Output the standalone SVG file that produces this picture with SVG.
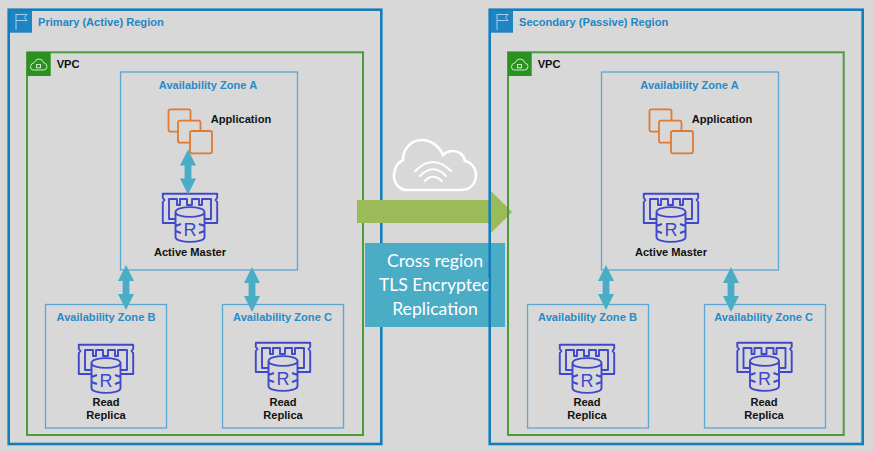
<svg xmlns="http://www.w3.org/2000/svg" width="873" height="451" viewBox="0 0 873 451">
<style>
text{font-family:"Liberation Sans",Arial,sans-serif;font-weight:700;font-size:11.1px}
.reg{fill:none;stroke:#147ebb;stroke-width:2.6}
.vpc{fill:none;stroke:#4a9d3a;stroke-width:2}
.az{fill:none;stroke:#5ba6d3;stroke-width:1.3}
.rt{fill:#1f86c4}
.azt{fill:#2a8ac6;text-anchor:middle}
.lbl{fill:#111;text-anchor:middle}
.dbl{fill:none;stroke:#3f48cc;stroke-width:1.9;stroke-linejoin:round}
.app{fill:none;stroke:#e07a30;stroke-width:1.8}
.con{fill:#4bacc6}
.ico{fill:none;stroke:#9fd0ee;stroke-width:1}
.ico2{fill:none;stroke:#cfe8cb;stroke-width:1}
.rep{font-family:Lato,Carlito,"Open Sans",sans-serif;font-weight:400;font-size:17.6px;fill:#fff;text-anchor:middle}
</style>
<defs>
<g id="db">
<path class="dbl" d="M13 26H7V6H15V12H18V6H25V12H30V6H37V12H40V6H49V26H43"/>
<path class="dbl" d="M13 30H0.800V9L2.500 7L0.800 5V0.800H55.200V5L53.500 7L55.200 9V30H43"/>
<path class="dbl" d="M13.500 19C13.500 12.500 42.500 12.500 42.500 19V44C42.500 50.500 13.500 50.500 13.500 44ZM13.500 19C13.500 25.500 42.500 25.500 42.500 19M13.500 33L19 31M42.500 33L37 31M13.500 38L19 40M42.500 38L37 40"/>
<text x="28" y="43" text-anchor="middle" style="font-size:18px;font-weight:400;fill:#3f48cc">R</text>
</g>
<g id="apps" class="app">
<path d="M10.500 22.700H3Q1 22.700 1 20.700V2.300Q1 .3 3 .3H21Q23 .3 23 2.300V11.700"/>
<path d="M22.500 33.700H12.500Q10.500 33.700 10.500 31.700V13.700Q10.500 11.700 12.500 11.700H31Q33 11.700 33 13.700V22"/>
<rect x="22.500" y="22" width="22" height="22.300" rx="2"/>
</g>
<path id="biarrow" d="M0 -22.500L8 -6.500H3.400V6.500H8L0 22.500L-8 6.500H-3.400V-6.500H-8Z"/>
</defs>
<rect width="873" height="451" fill="#d8d8d8"/>

<g id="primary-region">
<rect class="reg" x="8.700" y="9.700" width="372.600" height="434.300"/>
<rect x="10" y="11" width="22" height="21.700" fill="#1e84c4"/>
<path class="ico" d="M16 30V14M16 14.500H27L24.500 17.500L27 20.500H16"/>
<text class="rt" x="38" y="26">Primary (Active) Region</text>
</g>
<g id="primary-vpc">
<rect class="vpc" x="27" y="52.300" width="336" height="382.700"/>
<rect x="27" y="52" width="23.700" height="24" fill="#2b911f"/>
<path class="ico2" d="M33 70H43.500Q47 70 47 66.500Q47 63.500 44 63Q43 59 39 59Q35.500 59 34.500 62.500Q30.500 63.500 30.500 66.500Q30.500 70 33 70Z"/>
<rect class="ico2" x="36.500" y="64.500" width="4" height="3.300" stroke-width=".8"/>
<text x="56.700" y="68.300" style="fill:#111">VPC</text>
</g>
<g id="primary-az-a">
<rect class="az" x="120.500" y="72" width="177" height="198"/>
<text class="azt" x="208" y="88.500">Availability Zone A</text>
</g>
<g id="primary-application">
<use href="#apps" x="167.500" y="109"/>
<text class="lbl" x="241" y="122.500">Application</text>
</g>
<g id="primary-master">
<use href="#db" x="162" y="193"/>
<text class="lbl" x="190" y="255.500">Active Master</text>
</g>
<g id="primary-az-b">
<rect class="az" x="45.500" y="304.500" width="121" height="123.500"/>
<text class="azt" x="106" y="321">Availability Zone B</text>
<use href="#db" x="78" y="344"/>
<text class="lbl" x="106" y="405.700">Read</text>
<text class="lbl" x="106" y="418.700">Replica</text>
</g>
<g id="primary-az-c">
<rect class="az" x="222.500" y="304.500" width="121" height="123.500"/>
<text class="azt" x="282.500" y="321">Availability Zone C</text>
<use href="#db" x="255" y="342"/>
<text class="lbl" x="283" y="405.700">Read</text>
<text class="lbl" x="283" y="418.700">Replica</text>
</g>

<g id="cloud-link">
<path d="M407 190H461C471 190 476 183 476 175C476 168 471 162 465 161C464 154 458 151 453 151C449 151 446 152 443 155C439 146 431 140 422 140C411 140 403 149 403 160C397 163 394 169 394 176C394 184 400 190 407 190Z" fill="none" stroke="#fff" stroke-width="2.600"/>
<path d="M414.500 171.700Q433 152.300 451.700 171.700M419.500 176.700Q433 162 446.700 176.700M424 181.700Q433 171.700 442.500 181.700" fill="none" stroke="#fff" stroke-width="2"/>
</g>
<g id="replication-arrow">
<path d="M357 200H491V191L512 212L491 233V223H357Z" fill="#9bbb59"/>
</g>
<g id="replication-label">
<rect x="365" y="243" width="140" height="84" fill="#4bacc6"/>
<text class="rep" x="435" y="267">Cross region</text>
<text class="rep" x="435" y="291">TLS Encrypted</text>
<text class="rep" x="435" y="315">Replication</text>
</g>

<g id="secondary-region">
<rect class="reg" x="489.700" y="9.700" width="373" height="434.300"/>
<rect x="491" y="11" width="22" height="21.700" fill="#1e84c4"/>
<path class="ico" d="M497 30V14M497 14.500H508L505.500 17.500L508 20.500H497"/>
<text class="rt" x="519" y="26">Secondary (Passive) Region</text>
</g>
<g id="secondary-vpc">
<rect class="vpc" x="508" y="52.300" width="335.700" height="382.700"/>
<rect x="508" y="52" width="23.700" height="24" fill="#2b911f"/>
<path class="ico2" d="M514 70H524.500Q528 70 528 66.500Q528 63.500 525 63Q524 59 520 59Q516.500 59 515.500 62.500Q511.500 63.500 511.500 66.500Q511.500 70 514 70Z"/>
<rect class="ico2" x="517.500" y="64.500" width="4" height="3.300" stroke-width=".8"/>
<text x="537.700" y="68.300" style="fill:#111">VPC</text>
</g>
<g id="secondary-az-a">
<rect class="az" x="601.500" y="72" width="177" height="198"/>
<text class="azt" x="689.500" y="88.500">Availability Zone A</text>
</g>
<g id="secondary-application">
<use href="#apps" x="648.500" y="109"/>
<text class="lbl" x="722" y="122.500">Application</text>
</g>
<g id="secondary-master">
<use href="#db" x="643" y="193"/>
<text class="lbl" x="671" y="255.500">Active Master</text>
</g>
<g id="secondary-az-b">
<rect class="az" x="527.500" y="304.500" width="121" height="123.500"/>
<text class="azt" x="587.500" y="321">Availability Zone B</text>
<use href="#db" x="559" y="344"/>
<text class="lbl" x="587" y="405.700">Read</text>
<text class="lbl" x="587" y="418.700">Replica</text>
</g>
<g id="secondary-az-c">
<rect class="az" x="704.500" y="304.500" width="121" height="123.500"/>
<text class="azt" x="763.700" y="321">Availability Zone C</text>
<use href="#db" x="736.500" y="342"/>
<text class="lbl" x="764" y="405.700">Read</text>
<text class="lbl" x="764" y="418.700">Replica</text>
</g>

<g id="connectors" class="con">
<use href="#biarrow" x="188" y="172"/>
<use href="#biarrow" x="126" y="287.500"/>
<use href="#biarrow" x="252" y="289.500"/>
<use href="#biarrow" x="606" y="287.500"/>
<use href="#biarrow" x="731" y="289.500"/>
</g>
</svg>
